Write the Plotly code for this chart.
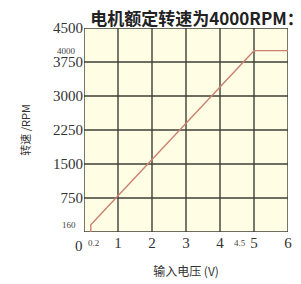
import plotly.graph_objects as go

# data
voltage = [0.2, 0.2, 5.0, 6.0]
speed = [0, 160, 4000, 4000]

x_ticks = [1, 2, 3, 4, 5, 6]
x_ticklabels = ["1", "2", "3", "4", "5", "6"]
y_ticks = [750, 1500, 2250, 3000, 3750, 4500]
y_ticklabels = ["750", "1500", "2250", "3000", "3750", "4500"]

small_x_vals = [0.27, 4.6]
small_x_text = ["0.2", "4.5"]
small_y_vals = [160, 4000]
small_y_text = ["160", "4000"]

serif = "Liberation Serif, Times New Roman, serif"
grid_col = "#3e3e36"

fig = go.Figure()

# grid as line traces built from the tick arrays (plus the axis origin)
for xv in [0] + x_ticks:
    fig.add_trace(go.Scatter(x=[xv, xv], y=[0, 4500], mode="lines",
                             line=dict(color=grid_col, width=1.4),
                             hoverinfo="skip", showlegend=False, cliponaxis=False))
for yv in [0] + y_ticks:
    fig.add_trace(go.Scatter(x=[0, 6], y=[yv, yv], mode="lines",
                             line=dict(color=grid_col, width=1.4),
                             hoverinfo="skip", showlegend=False, cliponaxis=False))

fig.add_trace(go.Scatter(x=voltage, y=speed, mode="lines",
                         line=dict(color="#c98273", width=1.4),
                         hoverinfo="skip", showlegend=False))

fig.update_layout(
    width=293, height=276,
    margin=dict(l=76, r=13, t=20, b=52, autoexpand=False),
    paper_bgcolor="white",
    plot_bgcolor="#fffde3",
    showlegend=False,
    title=dict(text="<b>电机额定转速为4000RPM：</b>", x=0.645, xanchor="center",
               y=0.96, yanchor="middle",
               font=dict(family="Noto Sans CJK SC", size=17, color="#222")),
)
fig.update_xaxes(range=[0, 6], tickmode="array", tickvals=x_ticks, ticktext=x_ticklabels,
                 showgrid=False, showline=False, zeroline=False, automargin=False,
                 tickfont=dict(family=serif, size=15, color="#333"),
                 title=dict(text="输入电压 (V)", standoff=17,
                            font=dict(family="Noto Sans CJK SC", size=12, color="#333")))
fig.update_yaxes(range=[0, 4500], tickmode="array", tickvals=y_ticks, ticktext=y_ticklabels,
                 showgrid=False, showline=False, zeroline=False, automargin=False,
                 tickfont=dict(family=serif, size=15, color="#333"),
                 title=dict(text="转速 /RPM", standoff=20,
                            font=dict(family="Noto Sans CJK SC", size=11, color="#333")))

anns = [dict(x=-0.025, y=-0.02, xref="paper", yref="paper", text="0", showarrow=False,
             xanchor="center", yanchor="top", font=dict(family=serif, size=15, color="#333"))]
for v, t in zip(small_x_vals, small_x_text):
    anns.append(dict(x=v, y=-0.02, xref="x", yref="paper", text=t, showarrow=False,
                     xanchor="center", yanchor="top",
                     font=dict(family=serif, size=9, color="#444")))
for v, t in zip(small_y_vals, small_y_text):
    anns.append(dict(x=-0.03, y=v, xref="paper", yref="y", text=t, showarrow=False,
                     xanchor="right", yanchor="middle",
                     font=dict(family=serif, size=9, color="#444")))
fig.update_layout(annotations=anns)

fig.write_html("out.html")
